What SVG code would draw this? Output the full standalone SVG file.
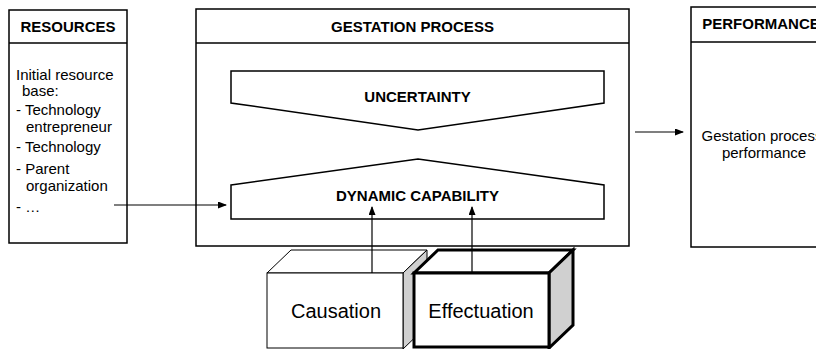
<svg xmlns="http://www.w3.org/2000/svg" width="816" height="349" viewBox="0 0 816 349">
<style>
.box{fill:#fff;stroke:#000;stroke-width:1.5}
.ln{stroke:#000;stroke-width:1.5;fill:none}
.hd{font-family:"Liberation Sans",Arial,sans-serif;font-size:15px;font-weight:bold;fill:#000;text-anchor:middle}
.tx{font-family:"Liberation Sans",Arial,sans-serif;font-size:15px;fill:#000}
.big{font-family:"Liberation Sans",Arial,sans-serif;font-size:20px;fill:#000;text-anchor:middle}
.conn{stroke:#000;stroke-width:1.2;fill:none;marker-end:url(#ah)}
</style>
<defs>
<marker id="ah" markerWidth="9" markerHeight="7" refX="8" refY="3.5" orient="auto" markerUnits="userSpaceOnUse">
<path d="M0,0 L9,3.5 L0,7 z" fill="#000"/>
</marker>
</defs>
<rect width="816" height="349" fill="#fff"/>
<g id="resources">
<rect class="box" x="9" y="10" width="118" height="233"/>
<line class="ln" x1="9" y1="43" x2="127" y2="43"/>
<text class="hd" x="68" y="32">RESOURCES</text>
<text class="tx" x="16" y="80">Initial resource</text>
<text class="tx" x="22" y="96">base:</text>
<text class="tx" x="16" y="115">- Technology</text>
<text class="tx" x="26" y="132">entrepreneur</text>
<text class="tx" x="16" y="152">- Technology</text>
<text class="tx" x="16" y="174">- Parent</text>
<text class="tx" x="26" y="191">organization</text>
<text class="tx" x="16" y="212">- …</text>
</g>
<g id="gestation">
<rect class="box" x="196" y="9" width="433" height="237"/>
<line class="ln" x1="196" y1="43" x2="629" y2="43"/>
<text class="hd" x="412.5" y="32">GESTATION PROCESS</text>
</g>
<g id="uncertainty">
<polygon class="box" points="231,71 604,71 604,103 418,130 231,103"/>
<text class="hd" x="417.5" y="102">UNCERTAINTY</text>
</g>
<g id="dynamic-capability">
<polygon class="box" points="231,185 418,159 604,185 604,219 231,219"/>
<text class="hd" x="417.5" y="201">DYNAMIC CAPABILITY</text>
</g>
<g id="performance">
<rect class="box" x="691" y="7" width="150" height="240"/>
<line class="ln" x1="691" y1="42" x2="841" y2="42"/>
<text class="hd" x="761" y="29">PERFORMANCE</text>
<text class="tx" x="762" y="141" text-anchor="middle">Gestation process</text>
<text class="tx" x="764" y="158" text-anchor="middle">performance</text>
</g>
<g id="causation">
<polygon points="267,273 291,250 427,250 403,273" fill="#fff" stroke="#000" stroke-width="1"/>
<polygon points="403,273 427,250 427,326 403,349" fill="#d0d0d0" stroke="#000" stroke-width="1"/>
<rect x="267" y="273" width="136" height="75" fill="#fff" stroke="#000" stroke-width="1"/>
<text class="big" x="336" y="318">Causation</text>
</g>
<g id="effectuation">
<polygon points="414,273 438,250 573,250 549,273" fill="#fff" stroke="#000" stroke-width="3" stroke-linejoin="miter"/>
<polygon points="549,273 573,250 573,325 549,348" fill="#d0d0d0" stroke="#000" stroke-width="3"/>
<rect x="414" y="273" width="135" height="74" fill="#fff" stroke="#000" stroke-width="3"/>
<text class="big" x="481" y="318">Effectuation</text>
</g>
<g id="connectors">
<line class="conn" x1="114" y1="205" x2="226" y2="205"/>
<line class="conn" x1="635" y1="132" x2="683" y2="132"/>
<line class="conn" x1="372" y1="273" x2="372" y2="207"/>
<line class="conn" x1="472" y1="273" x2="472" y2="207"/>
</g>
</svg>
